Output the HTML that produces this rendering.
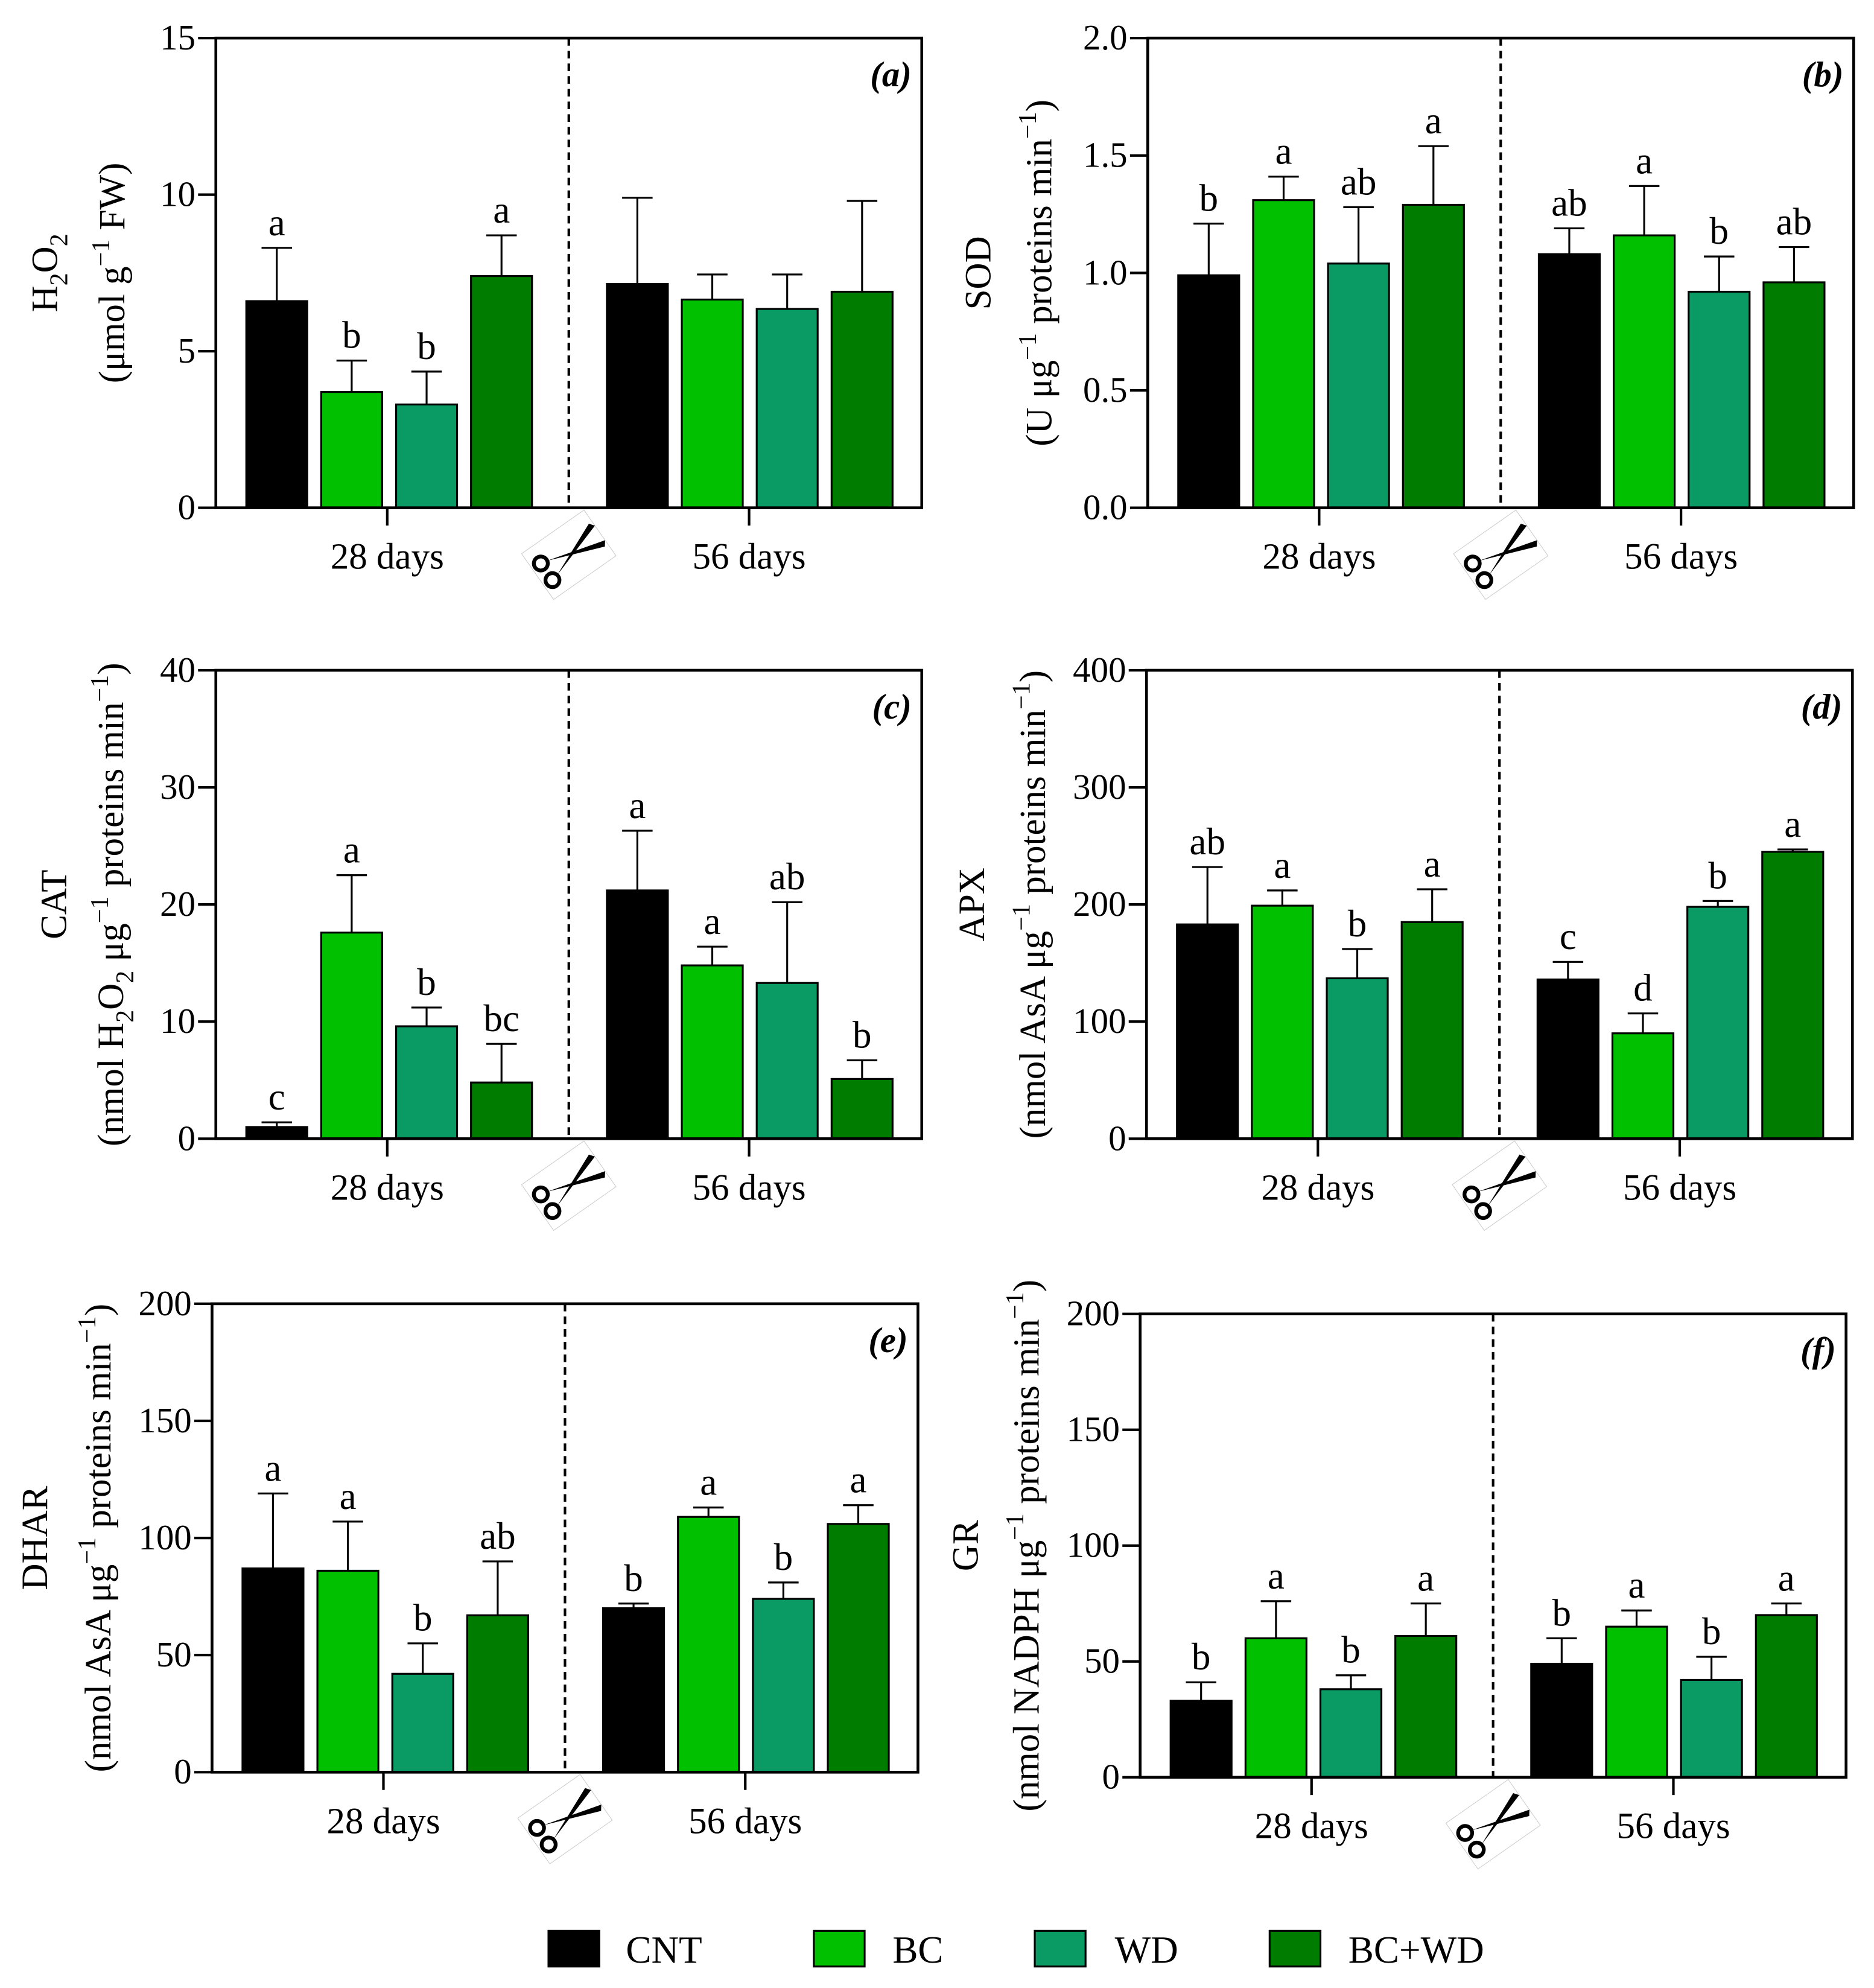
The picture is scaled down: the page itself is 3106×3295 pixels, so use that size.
<!DOCTYPE html>
<html><head><meta charset="utf-8">
<style>
html,body{margin:0;padding:0;background:#fff;}
svg{display:block;}
text{font-family:"Liberation Serif",serif;fill:#000;}
</style></head>
<body>
<svg id="fig" xmlns="http://www.w3.org/2000/svg" width="3106" height="3295" viewBox="0 0 1476 1566" preserveAspectRatio="none">
<g id="legend">
 <g><rect x="432" y="1521" width="40" height="28" fill="#000" stroke="#000" stroke-width="1.5"/><text x="493" y="1546" font-size="30">CNT</text></g>
 <g><rect x="641" y="1521" width="40" height="28" fill="#00c000" stroke="#000" stroke-width="1.5"/><text x="703" y="1546" font-size="30">BC</text></g>
 <g><rect x="815" y="1521" width="40" height="28" fill="#0a9a64" stroke="#000" stroke-width="1.5"/><text x="878" y="1546" font-size="30">WD</text></g>
 <g><rect x="1000" y="1521" width="40" height="28" fill="#007c00" stroke="#000" stroke-width="1.5"/><text x="1062" y="1546" font-size="30">BC+WD</text></g>
</g>
</svg>
<script>
const NS="http://www.w3.org/2000/svg";
const svg=document.getElementById('fig');
const colors=["#000000","#00c000","#0a9a64","#007c00"];

// Panel data: means, error tops, letters
const aMeans=[6.6,3.7,3.3,7.4,7.15,6.65,6.35,6.9];
const aErr=[8.3,4.7,4.35,8.7,9.9,7.45,7.45,9.8];
const aLetters=["a","b","b","a","","","",""];
const aTicks=[0,5,10,15];
const bMeans=[0.99,1.31,1.04,1.29,1.08,1.16,0.92,0.96];
const bErr=[1.21,1.41,1.28,1.54,1.19,1.37,1.07,1.11];
const bLetters=["b","a","ab","a","ab","a","b","ab"];
const bTicks=["0.0","0.5","1.0","1.5","2.0"];
const cMeans=[1.0,17.6,9.6,4.8,21.2,14.8,13.3,5.1];
const cErr=[1.4,22.5,11.2,8.1,26.3,16.4,20.2,6.7];
const cLetters=["c","a","b","bc","a","a","ab","b"];
const cTicks=[0,10,20,30,40];
const dMeans=[183,199,137,185,136,90,198,245];
const dErr=[232,212,162,213,151,107,203,247];
const dLetters=["ab","a","b","a","c","d","b","a"];
const dTicks=[0,100,200,300,400];
const eMeans=[87,86,42,67,70,109,74,106];
const eErr=[119,107,55,90,72,113,81,114];
const eLetters=["a","a","b","ab","b","a","b","a"];
const eTicks=[0,50,100,150,200];
const fMeans=[33,60,38,61,49,65,42,70];
const fErr=[41,76,44,75,60,72,52,75];
const fLetters=["b","a","b","a","b","a","b","a"];
const fTicks=[0,50,100,150,200];
const groups=["28 days","56 days"];

function el(tag,attrs,parent){const e=document.createElementNS(NS,tag);for(const k in attrs)e.setAttribute(k,attrs[k]);(parent||svg).appendChild(e);return e;}

function panel(o){
 const g=el('g',{});
 
 
 const L=o.x,T=o.y,W=556,H=o.h,B=T+H;
 const ticks=o.ticks.map(Number);
 const max=ticks[ticks.length-1];
 const ys=v=>B-v/max*H;
 const xc=i=>(i<4?L+48+i*59:L+332+(i-4)*59);
 o.means.forEach((m,i)=>{
  const x=xc(i);
  const eb=el('line',{x1:x,x2:x,y1:ys(m),y2:ys(o.err[i]),stroke:'#000','stroke-width':1.5},g);
  
  
  const cap=el('line',{x1:x-12,x2:x+12,y1:ys(o.err[i]),y2:ys(o.err[i]),stroke:'#000','stroke-width':1.5},g);
  
  
  const r=el('rect',{x:x-24,y:ys(m),width:48,height:B-ys(m),fill:colors[i%4],stroke:'#000','stroke-width':1.5},g);
  
  
  if(o.letters[i]){
   const t=el('text',{x:x,y:ys(o.err[i])-10,'font-size':30,'text-anchor':'middle'},g);
   t.textContent=o.letters[i];
   
   
  }
 });
 el('line',{x1:L+278,x2:L+278,y1:T,y2:B,stroke:'#000','stroke-width':2,'stroke-dasharray':'6,4'},g);
 el('rect',{x:L,y:T,width:W,height:H,fill:'none',stroke:'#000','stroke-width':2.2},g);
 o.ticks.forEach(tk=>{
  const y=ys(Number(tk));
  el('line',{x1:L-14,x2:L,y1:y,y2:y,stroke:'#000','stroke-width':2},g);
  const t=el('text',{x:L-16,y:y+9,'font-size':28,'text-anchor':'end'},g);
  t.textContent=tk;
  
  
 });
 [135,420].forEach((dx,k)=>{
  el('line',{x1:L+dx,x2:L+dx,y1:B,y2:B+14,stroke:'#000','stroke-width':2},g);
  const t=el('text',{x:L+dx,y:B+48,'font-size':29,'text-anchor':'middle'},g);
  t.textContent=groups[k];
  
  
 });
 const pt=el('text',{x:L+W-8,y:T+38,'font-size':28,'text-anchor':'end','font-style':'italic','font-weight':'bold'},g);
 pt.textContent='('+o.id+')';
 
 
 const mid=T+H/2;
 const t1=el('text',{transform:`translate(${L+o.t1x},${mid}) rotate(-90)`,'font-size':29,'text-anchor':'middle'},g);
 t1.innerHTML=o.title1;
 
 
 const t2=el('text',{transform:`translate(${L+o.t2x},${mid}) rotate(-90)`,'font-size':29,'text-anchor':'middle'},g);
 t2.innerHTML=o.title2;
 
 
 const s=el('g',{transform:`translate(${L+278},${B+37}) rotate(-35)`},g);
 
 
 el('rect',{x:-30,y:-22,width:60,height:44,fill:'none',stroke:'#ccc','stroke-width':0.5},s);
 el('circle',{cx:-22,cy:-7,r:5.5,fill:'none',stroke:'#000','stroke-width':3},s);
 el('circle',{cx:-22,cy:9,r:5.5,fill:'none',stroke:'#000','stroke-width':3},s);
 el('path',{d:'M-17,-6 L30,7 L27,11 Z',fill:'#000'},s);
 el('path',{d:'M-17,8 L30,-7 L27,-11 Z',fill:'#000'},s);
}
const sup='<tspan dy="-12" font-size="20">−1</tspan><tspan dy="12"> </tspan>';
const supEnd='<tspan dy="-12" font-size="20">−1</tspan><tspan dy="12">)</tspan>';
panel({id:'a',x:170,y:30,h:370,means:aMeans,err:aErr,letters:aLetters,ticks:aTicks,t1x:-125,t2x:-72,
 title1:'H<tspan dy="8" font-size="20">2</tspan><tspan dy="-8">O</tspan><tspan dy="8" font-size="20">2</tspan>',title2:'(μmol g'+sup+'FW)'});
panel({id:'b',x:904,y:30,h:370,means:bMeans,err:bErr,letters:bLetters,ticks:bTicks,t1x:-124,t2x:-76,
 title1:'SOD',title2:'(U μg'+sup+'proteins min'+supEnd});
panel({id:'c',x:170,y:528,h:369,means:cMeans,err:cErr,letters:cLetters,ticks:cTicks,t1x:-118,t2x:-73,
 title1:'CAT',title2:'(nmol H<tspan dy="8" font-size="20">2</tspan><tspan dy="-8">O</tspan><tspan dy="8" font-size="20">2</tspan><tspan dy="-8"> μg</tspan>'+sup+'proteins min'+supEnd});
panel({id:'d',x:903,y:528,h:369,means:dMeans,err:dErr,letters:dLetters,ticks:dTicks,t1x:-128,t2x:-80,
 title1:'APX',title2:'(nmol AsA μg'+sup+'proteins min'+supEnd});
panel({id:'e',x:167,y:1027,h:369,means:eMeans,err:eErr,letters:eLetters,ticks:eTicks,t1x:-130,t2x:-80,
 title1:'DHAR',title2:'(nmol AsA μg'+sup+'proteins min'+supEnd});
panel({id:'f',x:898,y:1035,h:365,means:fMeans,err:fErr,letters:fLetters,ticks:fTicks,t1x:-128,t2x:-80,
 title1:'GR',title2:'(nmol NADPH μg'+sup+'proteins min'+supEnd});
</script>
</body></html>
